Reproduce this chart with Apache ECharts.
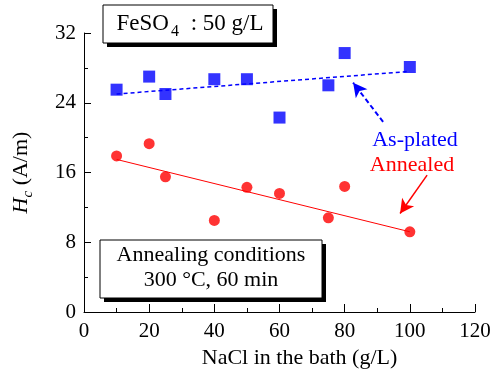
<!DOCTYPE html>
<html>
<head>
<meta charset="UTF-8">
<title></title>
<script src="https://cdn.jsdelivr.net/npm/echarts@6/dist/echarts.min.js"></script>
<style>
  body { margin: 0; background: #fff; }
  #chart { width: 490px; height: 377px; }
</style>
</head>
<body>
<div id="chart"></div>
<script>
// NaCl concentration (g/L)
var naclX = [10, 20, 25, 40, 50, 60, 75, 80, 100];
// Hc (A/m)
var asPlated = [25.5, 27.0, 25.0, 26.7, 26.7, 22.3, 26.0, 29.7, 28.1];
var annealed = [17.9, 19.3, 15.5, 10.5, 14.3, 13.6, 10.8, 14.4, 9.2];
// trend lines
var fitX = [10, 100];
var asPlatedFit = [25.0, 27.6];
var annealedFit = [17.5, 9.2];
// arrows (from, to) in data units
var asPlatedArrow = [[91.8, 21.8], [82.6, 26.3]];
var annealedArrow = [[105.3, 15.7], [97.0, 11.3]];

var xTicks = { min: 0, max: 120, interval: 20 };
var yTicks = { min: 0, max: 32, interval: 8 };

var FONT = 'Liberation Serif';

function pairs(xs, ys) {
  var out = [];
  for (var i = 0; i < xs.length; i++) out.push([xs[i], ys[i]]);
  return out;
}

var chart = echarts.init(document.getElementById('chart'));

var axisCommon = {
  axisLine: { lineStyle: { color: '#000', width: 1 } },
  axisTick: { inside: true, length: 8, lineStyle: { color: '#000' } },
  minorTick: { show: true, splitNumber: 2, length: 4, lineStyle: { color: '#000' } },
  splitLine: { show: false },
  axisLabel: { color: '#000', fontFamily: FONT, fontSize: 21 }
};

var option = {
  animation: false,
  grid: { left: 84, right: 15, top: 33, bottom: 65, containLabel: false, outerBoundsMode: 'none' },
  xAxis: Object.assign({}, axisCommon, {
    type: 'value',
    min: xTicks.min, max: xTicks.max, interval: xTicks.interval,
    name: 'NaCl in the bath (g/L)',
    nameLocation: 'middle',
    nameGap: 33,
    nameTextStyle: { color: '#000', fontFamily: FONT, fontSize: 22, padding: [0, 0, 0, 40] },
    axisLabel: Object.assign({}, axisCommon.axisLabel, { margin: 9 })
  }),
  yAxis: Object.assign({}, axisCommon, {
    type: 'value',
    min: yTicks.min, max: yTicks.max, interval: yTicks.interval,
    axisTick: { inside: true, length: 7, lineStyle: { color: '#000' } },
    name: '{i|H}{sub|c}{n| (A/m)}',
    nameLocation: 'middle',
    nameGap: 48,
    nameTextStyle: {
      color: '#000', fontFamily: FONT, fontSize: 22,
      rich: {
        i: { fontFamily: FONT, fontSize: 22, fontStyle: 'italic', color: '#000', lineHeight: 30, verticalAlign: 'middle' },
        sub: { fontFamily: FONT, fontSize: 15, fontStyle: 'italic', color: '#000', lineHeight: 30, verticalAlign: 'bottom' },
        n: { fontFamily: FONT, fontSize: 22, color: '#000', lineHeight: 30, verticalAlign: 'middle' }
      }
    },
    axisLabel: Object.assign({}, axisCommon.axisLabel, { margin: 8 })
  }),
  series: [
    {
      name: 'As-plated fit',
      type: 'line',
      data: pairs(fitX, asPlatedFit),
      symbol: 'none',
      lineStyle: { color: '#0000ff', width: 1.5, type: [4, 3] },
      markLine: {
        silent: true,
        symbol: ['none', 'arrow'],
        symbolSize: [11, 14],
        label: { show: false },
        lineStyle: { color: '#0000ff', width: 2, type: [5, 3] },
        data: [[{ coord: asPlatedArrow[0] }, { coord: asPlatedArrow[1] }]]
      }
    },
    {
      name: 'Annealed fit',
      type: 'line',
      data: pairs(fitX, annealedFit),
      symbol: 'none',
      lineStyle: { color: '#ff0000', width: 1 },
      markLine: {
        silent: true,
        symbol: ['none', 'arrow'],
        symbolSize: [11, 14],
        label: { show: false },
        lineStyle: { color: '#ff0000', width: 1.5, type: 'solid' },
        data: [[{ coord: annealedArrow[0] }, { coord: annealedArrow[1] }]]
      }
    },
    {
      name: 'As-plated',
      type: 'scatter',
      data: pairs(naclX, asPlated),
      symbol: 'rect',
      symbolSize: 12,
      itemStyle: { color: '#0000ff' }
    },
    {
      name: 'Annealed',
      type: 'scatter',
      data: pairs(naclX, annealed),
      symbol: 'circle',
      symbolSize: 11,
      itemStyle: { color: '#ff0000' }
    }
  ],
  graphic: [
    // FeSO4 box
    { type: 'rect', shape: { x: 107, y: 9, width: 170, height: 38 }, style: { fill: '#000' } },
    { type: 'rect', shape: { x: 103, y: 5, width: 170, height: 38 }, style: { fill: '#fff', stroke: '#000', lineWidth: 1 } },
    {
      type: 'text', x: 190, y: 24,
      style: {
        text: '{a|FeSO}{s|4}{a| : 50 g/L}',
        align: 'center', verticalAlign: 'middle',
        rich: {
          a: { fontFamily: FONT, fontSize: 23, fill: '#000', lineHeight: 32, verticalAlign: 'middle' },
          s: { fontFamily: FONT, fontSize: 16, fill: '#000', lineHeight: 32, verticalAlign: 'bottom', padding: [0, 6, 0, 2] }
        }
      }
    },
    // Annealing conditions box
    { type: 'rect', shape: { x: 104, y: 244, width: 222, height: 58 }, style: { fill: '#000' } },
    { type: 'rect', shape: { x: 100, y: 240, width: 222, height: 58 }, style: { fill: '#fff', stroke: '#000', lineWidth: 1 } },
    {
      type: 'text', x: 211, y: 268,
      style: {
        text: 'Annealing conditions\n300 °C, 60 min',
        align: 'center', verticalAlign: 'middle',
        font: '22px ' + FONT, lineHeight: 25, fill: '#000'
      }
    },
    // series labels
    {
      type: 'text', x: 415, y: 140,
      style: { text: 'As-plated', align: 'center', verticalAlign: 'middle', font: '22px ' + FONT, fill: '#0000ff' }
    },
    {
      type: 'text', x: 412, y: 165,
      style: { text: 'Annealed', align: 'center', verticalAlign: 'middle', font: '22px ' + FONT, fill: '#ff0000' }
    }
  ]
};

chart.setOption(option);
window.onresize = chart.resize;
</script>
</body>
</html>
